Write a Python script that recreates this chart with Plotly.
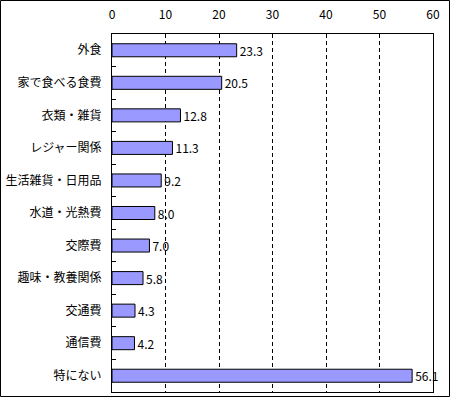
import plotly.graph_objects as go

categories = ["外食", "家で食べる食費", "衣類・雑貨", "レジャー関係", "生活雑貨・日用品",
              "水道・光熱費", "交際費", "趣味・教養関係", "交通費", "通信費", "特にない"]
values = [23.3, 20.5, 12.8, 11.3, 9.2, 8.0, 7.0, 5.8, 4.3, 4.2, 56.1]
x_ticks = [0, 10, 20, 30, 40, 50, 60]

W, H = 450, 397
L, R, T, B = 112, 17, 34, 5
pw, ph = W - L - R, H - T - B

font = "Noto Sans CJK JP, sans-serif"

fig = go.Figure(go.Bar(
    y=categories, x=values, orientation="h",
    marker=dict(color="#9999ff", line=dict(color="black", width=1)),
    text=[f"{v:.1f}" for v in values], textposition="outside",
    textfont=dict(family=font, size=12, color="black"),
    constraintext="none", cliponaxis=False, width=0.4,
))

fig.update_layout(
    width=W, height=H, margin=dict(l=L, r=R, t=T, b=B, autoexpand=False),
    plot_bgcolor="white", paper_bgcolor="white", showlegend=False,
    font=dict(family=font, size=12, color="black"),
    xaxis=dict(range=[0, 60], side="top", tickvals=x_ticks, ticks="",
               showgrid=True, gridcolor="black", griddash="4px,3px", gridwidth=1,
               showline=True, linecolor="black", linewidth=1, mirror=True,
               zeroline=False, tickfont=dict(size=12), ticklabelstandoff=9,
               fixedrange=True),
    yaxis=dict(categoryorder="array", categoryarray=categories, autorange="reversed",
               ticks="inside", tickson="boundaries", ticklen=4, tickcolor="black",
               showline=True, linecolor="black", linewidth=1, mirror=True,
               showgrid=False, tickfont=dict(size=12), ticklabelstandoff=7,
               fixedrange=True),
    shapes=[dict(type="rect", xref="paper", yref="paper",
                 x0=(-L + 0.5) / pw, x1=(pw + R - 0.5) / pw,
                 y0=(-B + 0.5) / ph, y1=(ph + T - 0.5) / ph,
                 line=dict(color="black", width=1), fillcolor="rgba(0,0,0,0)")],
)
fig.write_html("out.html", config={"displayModeBar": False},
               post_script="document.body.style.margin='0';")
